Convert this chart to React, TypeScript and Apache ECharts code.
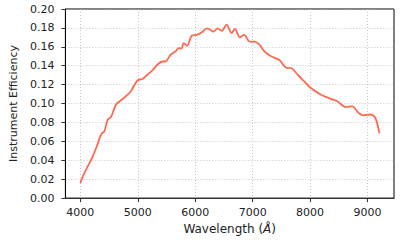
import React, { useEffect, useRef } from "react";
import * as echarts from "echarts";

const wavelengths = [
  4000, 4047, 4133, 4219, 4288, 4362, 4420, 4478, 4535, 4621, 4707, 4793, 4879, 4995, 5081, 5167, 5253,
  5340, 5426, 5483, 5569, 5655, 5713, 5759, 5800, 5857, 5943, 6029, 6116, 6202, 6259, 6317, 6391, 6460,
  6547, 6633, 6690, 6776, 6851, 6948, 7034, 7121, 7207, 7322, 7466, 7581, 7667, 7782, 7897, 8000, 8184,
  8357, 8472, 8616, 8731, 8845, 8931, 9047, 9133, 9207,
];
const efficiency = [
  0.0158, 0.0235, 0.034, 0.0445, 0.055, 0.0674, 0.0709, 0.083, 0.086, 0.099, 0.1035, 0.1077, 0.113, 0.1245,
  0.126, 0.1305, 0.135, 0.141, 0.1445, 0.1445, 0.1516, 0.155, 0.1586, 0.158, 0.164, 0.161, 0.172, 0.1726,
  0.1754, 0.1796, 0.178, 0.176, 0.1796, 0.1768, 0.1835, 0.1744, 0.179, 0.17, 0.1726, 0.1656, 0.1656, 0.162,
  0.155, 0.15, 0.146, 0.138, 0.1376, 0.1305, 0.1235, 0.117, 0.1095, 0.105, 0.1024, 0.0965, 0.097, 0.09,
  0.0874, 0.0884, 0.085, 0.0684,
];
const xTicks = [4000, 5000, 6000, 7000, 8000, 9000];

export default function App() {
  const ref = useRef<HTMLDivElement>(null);
  useEffect(() => {
    if (!ref.current) return;
    const chart = echarts.init(ref.current, undefined, { renderer: "svg" });
    const font = "DejaVu Sans";
    chart.setOption({
      animation: false,
      backgroundColor: "#ffffff",
      grid: { left: 62, top: 9, right: 21, bottom: 41, show: true, borderColor: "#000", borderWidth: 1 },
      xAxis: {
        type: "value",
        min: 3740,
        max: 9460,
        name: "Wavelength ({i|Å})",
        nameLocation: "middle",
        nameGap: 24,
        nameTextStyle: {
          fontFamily: font,
          fontSize: 12,
          color: "#222",
          rich: { i: { fontStyle: "italic", fontFamily: font, fontSize: 12, color: "#222" } },
        },
        axisLine: { show: true, lineStyle: { color: "#333", width: 1.2 } },
        axisTick: { show: true, length: 4, inside: false, customValues: xTicks, lineStyle: { color: "#333" } },
        axisLabel: {
          customValues: xTicks,
          fontFamily: font,
          fontSize: 11,
          color: "#222",
          margin: 9,
          formatter: (v: number) => String(v),
        },
        splitLine: { show: true, lineStyle: { color: "#b8b8b8", type: [1, 2], width: 0.8 } },
      },
      yAxis: {
        type: "value",
        min: 0,
        max: 0.2,
        interval: 0.02,
        name: "Instrument Efficiency",
        nameLocation: "middle",
        nameGap: 34,
        nameTextStyle: { fontFamily: font, fontSize: 11, color: "#222" },
        axisLine: { show: true, lineStyle: { color: "#000", width: 1 } },
        axisTick: { show: true, length: 4, inside: false, lineStyle: { color: "#333" } },
        axisLabel: {
          fontFamily: font,
          fontSize: 11,
          color: "#222",
          margin: 11,
          formatter: (v: number) => v.toFixed(2),
        },
        splitLine: { show: true, lineStyle: { color: "#b8b8b8", type: [1, 2], width: 0.8 } },
      },
      series: [
        {
          type: "line",
          data: wavelengths.map((w, i) => [w, efficiency[i]]),
          smooth: 0.3,
          showSymbol: false,
          lineStyle: { color: "#fd6a50", width: 1.8 },
        },
      ],
    });
    return () => chart.dispose();
  }, []);
  return <div ref={ref} style={{ width: 415, height: 240, position: "absolute", left: 0, top: 0 }} />;
}
